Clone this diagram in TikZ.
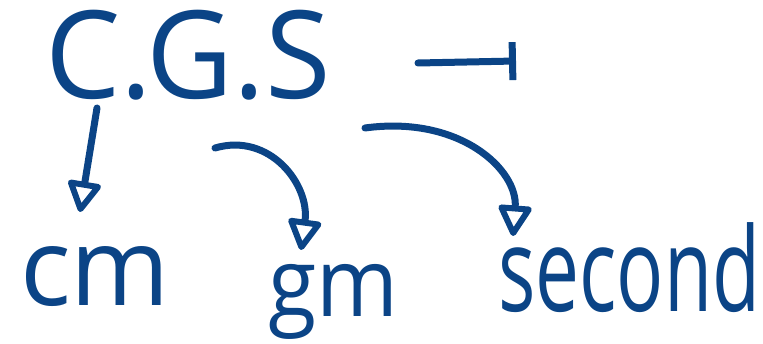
\documentclass[tikz,border=0pt]{standalone}
\usepackage{fontspec}
\setmainfont{Open Sans}
\usetikzlibrary{arrows.meta}
\definecolor{ink}{HTML}{0B4486}
\tikzset{
  lbl/.style={anchor=north west, inner sep=0pt, text=ink},
  conn/.style={draw=ink, line width=7pt, line cap=round},
  tri/.style={-{Triangle[open, length=34pt, width=36pt, round, line width=6pt]}}
}
\begin{document}
\begin{tikzpicture}[x=1pt,y=-1pt]
\useasboundingbox (0,0) rectangle (763,344);
\node[lbl] (cgs) at (45,10) {\resizebox*{285pt}{90pt}{C.G.S}};
\node[lbl] (cm) at (20,246) {\resizebox*{150pt}{60pt}{cm}};
\node[lbl] (gm) at (268,264) {\resizebox*{130pt}{75pt}{gm}};
\node[lbl] (sec) at (498,222) {\resizebox*{262pt}{90pt}{second}};
\coordinate (a1s) at (418,63);
\coordinate (a1e) at (516,61);
\coordinate (a2s) at (97,108);
\coordinate (a2e) at (80,212);
\coordinate (a3s) at (215,148);
\coordinate (a3e) at (301,250);
\coordinate (a4s) at (365,128);
\coordinate (a4e) at (513,236);
\draw[conn, -{Bar[width=38pt, line width=7pt]}] (a1s) -- (a1e);
\draw[conn, tri] (a2s) -- (a2e);
\draw[conn, tri] (a3s) .. controls (270,132) and (310,185) .. (a3e);
\draw[conn, tri] (a4s) .. controls (460,115) and (518,170) .. (a4e);
\end{tikzpicture}
\end{document}
